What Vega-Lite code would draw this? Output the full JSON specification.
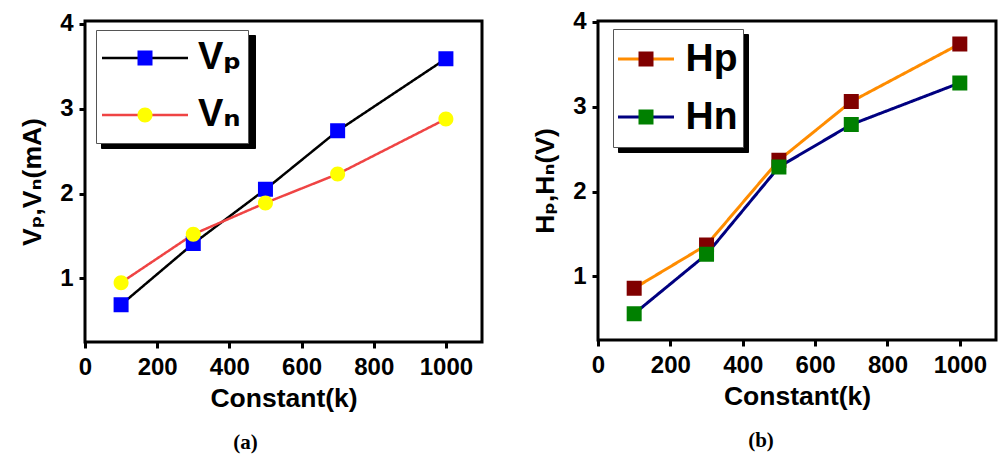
{
  "$schema": "https://vega.github.io/schema/vega-lite/v6.json",
  "background": "white",
  "padding": {"left": 18, "top": 8, "right": 0, "bottom": 5},
  "spacing": 40,
  "resolve": {
    "scale": {"stroke": "independent", "fill": "independent", "shape": "independent", "strokeDash": "independent", "x": "independent", "y": "independent"},
    "legend": {"stroke": "independent", "fill": "independent", "shape": "independent", "strokeDash": "independent"}
  },
  "config": {
    "view": {"stroke": "black", "strokeWidth": 3},
    "axis": {
      "domain": false, "grid": false, "ticks": true, "tickColor": "black", "tickWidth": 3, "tickSize": 6,
      "labelFont": "Liberation Sans", "labelFontWeight": "bold", "labelFontSize": 24, "labelColor": "black",
      "labelFlush": false, "labelOverlap": false,
      "titleFont": "Liberation Sans, DejaVu Sans", "titleFontWeight": "bold", "titleFontSize": 26.5, "titleColor": "black"
    },
    "axisX": {"labelPadding": 7, "titlePadding": 6},
    "axisY": {"labelPadding": 6, "titlePadding": 13},
    "legend": {"labelFont": "Liberation Sans, DejaVu Sans", "labelFontWeight": "bold", "labelColor": "black"},
    "title": {"font": "Liberation Serif", "fontSize": 21, "fontWeight": "bold", "color": "black", "orient": "bottom", "offset": 20}
  },
  "datasets": {
    "left": [
      {"k": 100, "series": "Vp", "value": 0.69},
      {"k": 300, "series": "Vp", "value": 1.41},
      {"k": 500, "series": "Vp", "value": 2.05},
      {"k": 700, "series": "Vp", "value": 2.74},
      {"k": 1000, "series": "Vp", "value": 3.59},
      {"k": 100, "series": "Vn", "value": 0.95},
      {"k": 300, "series": "Vn", "value": 1.52},
      {"k": 500, "series": "Vn", "value": 1.89},
      {"k": 700, "series": "Vn", "value": 2.23},
      {"k": 1000, "series": "Vn", "value": 2.88}
    ],
    "right": [
      {"k": 100, "series": "Hp", "value": 0.86},
      {"k": 300, "series": "Hp", "value": 1.37},
      {"k": 500, "series": "Hp", "value": 2.37},
      {"k": 700, "series": "Hp", "value": 3.06},
      {"k": 1000, "series": "Hp", "value": 3.74},
      {"k": 100, "series": "Hn", "value": 0.56},
      {"k": 300, "series": "Hn", "value": 1.26},
      {"k": 500, "series": "Hn", "value": 2.29},
      {"k": 700, "series": "Hn", "value": 2.79},
      {"k": 1000, "series": "Hn", "value": 3.28}
    ]
  },
  "hconcat": [
    {
      "width": 397,
      "height": 321,
      "data": {"name": "left"},
      "title": {"text": "(a)", "dx": -38},
      "encoding": {
        "x": {"field": "k", "type": "quantitative", "scale": {"domain": [0, 1100], "nice": false, "zero": false}, "axis": {"values": [0, 200, 400, 600, 800, 1000], "format": "d", "title": "Constant(k)"}},
        "y": {"field": "value", "type": "quantitative", "scale": {"domain": [0.25, 4.035], "nice": false, "zero": false}, "axis": {"values": [1, 2, 3, 4], "title": "Vₚ,Vₙ(mA)"}}
      },
      "layer": [
        {
          "mark": {"type": "line", "strokeWidth": 2.5},
          "encoding": {
            "stroke": {"field": "series", "type": "nominal", "scale": {"domain": ["Vp", "Vn"], "range": ["#000000", "#ef4444"]},
              "legend": {"title": null, "orient": "none", "legendX": 11, "legendY": 9, "zindex": 2, "clipHeight": 44,
                "symbolType": "M-2.457,0H2.457", "symbolSize": 1225, "symbolStrokeWidth": 2.5, "symbolOffset": 24,
                "labelFontSize": 38, "labelOffset": 34, "labelExpr": "datum.label == 'Vp' ? 'Vₚ' : 'Vₙ'",
                "rowPadding": 13, "padding": 6, "strokeColor": "#555555", "fillColor": "white"}},
            "strokeDash": {"field": "series", "type": "nominal", "scale": {"range": [[1, 0], [1, 0]]},
              "legend": {"title": null, "orient": "none", "legendX": 16, "legendY": 14, "zindex": 1, "clipHeight": 44,
                "symbolType": "M-2.457,0H2.457", "symbolSize": 1225, "symbolStrokeWidth": 2.5,
                "symbolStrokeColor": "black", "symbolOffset": 24,
                "labelFontSize": 38, "labelOffset": 80, "labelExpr": "''",
                "rowPadding": 13, "padding": 6, "strokeColor": "black", "fillColor": "black"}}
          }
        },
        {
          "mark": {"type": "point", "filled": true, "opacity": 1, "size": 1225, "strokeWidth": 0},
          "encoding": {
            "fill": {"field": "series", "type": "nominal", "sort": "descending", "scale": {"range": ["#0000ff", "#ffff00"]},
              "legend": {"title": null, "orient": "none", "legendX": 11, "legendY": 9, "zindex": 3, "clipHeight": 44,
                "symbolSize": 1225, "symbolStrokeWidth": 2.5, "symbolStrokeColor": "transparent", "symbolOffset": 24,
                "labelFontSize": 38, "labelOffset": 34, "labelExpr": "''",
                "rowPadding": 13, "padding": 6}},
            "shape": {"field": "series", "type": "nominal", "sort": "descending",
              "scale": {"range": ["M-2.457,0H2.457ZM-0.4286,-0.4286H0.4286V0.4286H-0.4286Z", "M-2.457,0H2.457ZM0.4286,0A0.4286,0.4286,0,1,1,-0.4286,0A0.4286,0.4286,0,1,1,0.4286,0Z"]},
              "legend": {"title": null, "orient": "none", "legendX": 11, "legendY": 9, "zindex": 3, "clipHeight": 44,
                "symbolSize": 1225, "symbolStrokeWidth": 2.5, "symbolStrokeColor": "transparent", "symbolOffset": 24,
                "labelFontSize": 38, "labelOffset": 34, "labelExpr": "''",
                "rowPadding": 13, "padding": 6}}
          }
        }
      ]
    },
    {
      "width": 398,
      "height": 319,
      "data": {"name": "right"},
      "title": {"text": "(b)", "dx": -36},
      "encoding": {
        "x": {"field": "k", "type": "quantitative", "scale": {"domain": [0, 1100], "nice": false, "zero": false}, "axis": {"values": [0, 200, 400, 600, 800, 1000], "format": "d", "title": "Constant(k)"}},
        "y": {"field": "value", "type": "quantitative", "scale": {"domain": [0.25, 4.01], "nice": false, "zero": false}, "axis": {"values": [1, 2, 3, 4], "title": "Hₚ,Hₙ(V)"}}
      },
      "layer": [
        {
          "mark": {"type": "line", "strokeWidth": 3},
          "encoding": {
            "stroke": {"field": "series", "type": "nominal", "scale": {"domain": ["Hp", "Hn"], "range": ["#ff8c00", "#000080"]},
              "legend": {"title": null, "orient": "none", "legendX": 15, "legendY": 8, "zindex": 2, "clipHeight": 50,
                "symbolType": "M-1.6,0H1.6", "symbolSize": 1225, "symbolStrokeWidth": 3, "symbolOffset": 8.5,
                "labelFontSize": 39, "labelOffset": 20,
                "rowPadding": 8, "padding": 5, "strokeColor": "#555555", "fillColor": "white"}},
            "strokeDash": {"field": "series", "type": "nominal", "scale": {"range": [[1, 0], [1, 0]]},
              "legend": {"title": null, "orient": "none", "legendX": 20, "legendY": 13, "zindex": 1, "clipHeight": 50,
                "symbolType": "M-1.6,0H1.6", "symbolSize": 1225, "symbolStrokeWidth": 3,
                "symbolStrokeColor": "black", "symbolOffset": 8.5,
                "labelFontSize": 39, "labelOffset": 72, "labelExpr": "''",
                "rowPadding": 8, "padding": 5, "strokeColor": "black", "fillColor": "black"}}
          }
        },
        {
          "mark": {"type": "point", "filled": true, "opacity": 1, "size": 1225, "strokeWidth": 0},
          "encoding": {
            "fill": {"field": "series", "type": "nominal", "sort": "descending", "scale": {"range": ["#800000", "#008000"]},
              "legend": {"title": null, "orient": "none", "legendX": 15, "legendY": 8, "zindex": 3, "clipHeight": 50,
                "symbolSize": 1225, "symbolStrokeWidth": 3, "symbolStrokeColor": "transparent", "symbolOffset": 8.5,
                "labelFontSize": 39, "labelOffset": 20, "labelExpr": "''",
                "rowPadding": 8, "padding": 5}},
            "shape": {"field": "series", "type": "nominal", "sort": "descending",
              "scale": {"range": ["M-1.6,0H1.6ZM-0.4286,-0.4286H0.4286V0.4286H-0.4286Z", "M-1.6,0H1.6ZM-0.4286,-0.4286H0.4286V0.4286H-0.4286Z"]},
              "legend": {"title": null, "orient": "none", "legendX": 15, "legendY": 8, "zindex": 3, "clipHeight": 50,
                "symbolSize": 1225, "symbolStrokeWidth": 3, "symbolStrokeColor": "transparent", "symbolOffset": 8.5,
                "labelFontSize": 39, "labelOffset": 20, "labelExpr": "''",
                "rowPadding": 8, "padding": 5}}
          }
        }
      ]
    }
  ]
}
